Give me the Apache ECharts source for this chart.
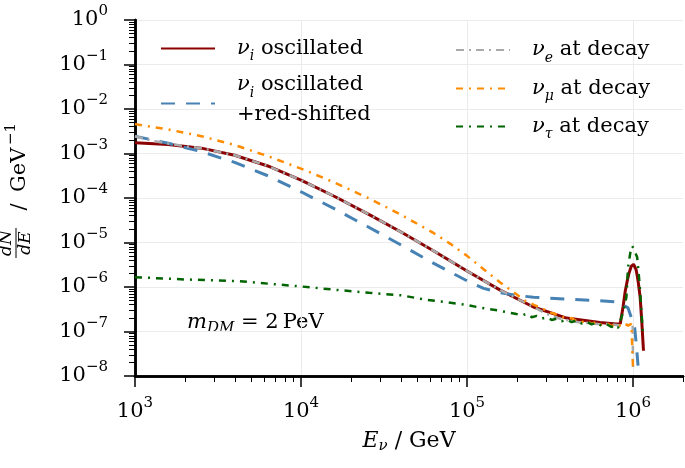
<!DOCTYPE html>
<html>
<head>
<meta charset="utf-8">
<script src="https://cdn.jsdelivr.net/npm/echarts@6/dist/echarts.min.js"></script>
<style>
html, body { margin: 0; padding: 0; background: #fff; }
#chart { width: 685px; height: 468px; }
</style>
</head>
<body>
<div id="chart"></div>
<script>
// tick values (log axes)
const xTicks = [1e3, 1e4, 1e5, 1e6];
const yTicks = [1e-8, 1e-7, 1e-6, 1e-5, 1e-4, 1e-3, 1e-2, 1e-1, 1];

// nu_i oscillated
const redE = [1000, 1585, 2512, 3981, 6310, 10000, 15850, 25120, 39810, 63100, 100000, 158500, 251200, 398100, 631000, 794300, 837500, 871000, 897500, 922000, 944100, 977200, 1007000, 1025000, 1042000, 1060000, 1079000, 1104000, 1130000, 1156000];
const redV = [1.74e-3, 1.585e-3, 1.32e-3, 9.12e-4, 5.25e-4, 2.51e-4, 1.096e-4, 4.47e-5, 1.74e-5, 6.46e-6, 2.29e-6, 8.51e-7, 3.55e-7, 2.0e-7, 1.585e-7, 1.48e-7, 1.5e-7, 3.6e-7, 8.0e-7, 1.35e-6, 2.0e-6, 2.95e-6, 3.24e-6, 3.0e-6, 2.5e-6, 1.8e-6, 1.17e-6, 5.9e-7, 1.58e-7, 3.7e-8];

// nu_i oscillated + red-shifted
const blueE = [1000, 1585, 2512, 3981, 6310, 10000, 15850, 25120, 39810, 63100, 100000, 125900, 158500, 199500, 251200, 398100, 631000, 812800, 933300, 1023000, 1047000, 1072000];
const blueV = [2.45e-3, 1.70e-3, 1.10e-3, 6.31e-4, 3.16e-4, 1.38e-4, 5.75e-5, 2.29e-5, 8.91e-6, 3.39e-6, 1.38e-6, 9.33e-7, 7.41e-7, 6.46e-7, 5.89e-7, 5.37e-7, 4.9e-7, 4.57e-7, 3.39e-7, 1.23e-7, 5.0e-8, 1.7e-8];

// nu_e at decay
const grayE = [1000, 1300, 1700, 2100, 2512, 3981, 6310, 10000, 15850, 25120, 39810, 63100, 100000, 158500, 251200, 300000, 360000, 420000, 480000, 550000, 630000, 720000, 820000, 920000, 995000, 1000000];
const grayV = [2.45e-3, 1.9e-3, 1.6e-3, 1.42e-3, 1.32e-3, 9.12e-4, 5.25e-4, 2.51e-4, 1.096e-4, 4.47e-5, 1.74e-5, 6.46e-6, 2.29e-6, 8.51e-7, 3.55e-7, 2.5e-7, 1.95e-7, 1.75e-7, 1.6e-7, 1.55e-7, 1.45e-7, 1.48e-7, 1.38e-7, 1.42e-7, 1.35e-7, 1.6e-8];

// nu_mu at decay
const orangeE = [1000, 1585, 2512, 3981, 6310, 10000, 15850, 25120, 39810, 63100, 79430, 100000, 125900, 158500, 199500, 213800, 223900, 239900, 251200, 269200, 281800, 302000, 316200, 331100, 354800, 380200, 398100, 426600, 457100, 489800, 524800, 562300, 602600, 645700, 691800, 741300, 794300, 851100, 891300, 933300, 977200, 995000, 1000000];
const orangeV = [4.57e-3, 3.47e-3, 2.45e-3, 1.55e-3, 8.71e-4, 4.57e-4, 2.24e-4, 1.02e-4, 4.27e-5, 1.62e-5, 9.33e-6, 5.01e-6, 2.51e-6, 1.26e-6, 6.76e-7, 5.6e-7, 4.9e-7, 4.57e-7, 3.98e-7, 3.63e-7, 3.24e-7, 3.02e-7, 2.63e-7, 2.57e-7, 2.29e-7, 2.09e-7, 1.91e-7, 2.0e-7, 1.7e-7, 1.62e-7, 1.78e-7, 1.48e-7, 1.66e-7, 1.41e-7, 1.55e-7, 1.32e-7, 1.48e-7, 1.32e-7, 1.51e-7, 1.35e-7, 1.48e-7, 1.4e-7, 1.55e-8];

// nu_tau at decay
const greenE = [1000, 2000, 4266, 10230, 16980, 25700, 40740, 54950, 74130, 97720, 123000, 154900, 195000, 213800, 229100, 245500, 263000, 281800, 302000, 323600, 346700, 371500, 398100, 426600, 457100, 489800, 524800, 562300, 602600, 645700, 691800, 741300, 776200, 812800, 831800, 871000, 912000, 933300, 966100, 988600, 1012000, 1059000, 1096000, 1122000, 1148000];
const greenV = [1.66e-6, 1.48e-6, 1.35e-6, 1.02e-6, 8.5e-7, 7.4e-7, 6.46e-7, 5.25e-7, 4.57e-7, 3.98e-7, 3.39e-7, 2.95e-7, 2.51e-7, 2.29e-7, 2.51e-7, 2.09e-7, 2.24e-7, 1.95e-7, 2.09e-7, 1.82e-7, 1.95e-7, 1.7e-7, 1.86e-7, 1.62e-7, 1.78e-7, 1.51e-7, 1.66e-7, 1.45e-7, 1.58e-7, 1.35e-7, 1.48e-7, 1.26e-7, 1.38e-7, 1.2e-7, 1.15e-7, 2.69e-7, 5.89e-7, 2.82e-6, 6.3e-6, 8.3e-6, 7.1e-6, 4.68e-6, 1.17e-6, 2.95e-7, 8.7e-8];

const SERIF = 'DejaVu Serif';
const X_MIN = 1e3, X_MAX = 2e6, Y_MIN = 1e-8, Y_MAX = 1;
const GRID_BOX = { left: 135, right: 2, top: 20, bottom: 92, outerBoundsMode: 'none' };

function zip(xs, ys) {
  return xs.map((x, i) => [x, ys[i]]);
}

// minor ticks at 2..9 of every decade
function minorTicks(lo, hi) {
  const out = [];
  for (let d = lo; d < hi; d *= 10) {
    for (let k = 2; k <= 9; k++) {
      const v = k * d;
      if (v <= hi * 1.0001) out.push(v);
    }
  }
  return out;
}

function powLabel(v) {
  const e = Math.round(Math.log10(v));
  return '{b|10}{s|' + String(e).replace('-', '\u2212') + '}';
}
function powLabelY(v) {
  return powLabel(v) + '{p| }';
}

const tickRich = {
  b: { fontFamily: SERIF, fontSize: 21, lineHeight: 32, color: '#000' },
  s: { fontFamily: SERIF, fontSize: 15, lineHeight: 15, verticalAlign: 'top', color: '#000' },
  p: { width: 13 }
};

const legendRich = {
  g: { fontFamily: SERIF, fontStyle: 'italic', fontSize: 21, lineHeight: 30, color: '#000' },
  s: { fontFamily: SERIF, fontStyle: 'italic', fontSize: 14, lineHeight: 18, verticalAlign: 'bottom', color: '#000' },
  t: { fontFamily: SERIF, fontSize: 21, lineHeight: 30, color: '#000' }
};

const legendText = {
  'νi oscillated': '{g|ν}{s|i}{t| oscillated}',
  'νi oscillated +red-shifted': '{g|ν}{s|i}{t| oscillated}\n{t|+red-shifted}',
  'νe at decay': '{g|ν}{s|e}{t| at decay}',
  'νμ at decay': '{g|ν}{s|μ}{t| at decay}',
  'ντ at decay': '{g|ν}{s|τ}{t| at decay}'
};

function oneLegend(name, left, top, padBottom) {
  return {
    data: [name],
    left: left,
    top: top,
    padding: 0,
    itemWidth: 54,
    itemHeight: 14,
    selectedMode: false,
    itemStyle: { opacity: 0 },
    formatter: n => legendText[n],
    textStyle: { padding: [0, 0, padBottom || 0, 17], rich: legendRich }
  };
}

// an overlay axis (second grid, same box) that only carries the short minor ticks
function minorAxis(min, max, values) {
  return {
    gridIndex: 1,
    type: 'log', logBase: 10, min: min, max: max,
    axisLine: { show: true, lineStyle: { color: '#000', width: 2.5 } },
    axisTick: { show: true, length: 6, customValues: values, lineStyle: { color: '#000', width: 1 } },
    axisLabel: { show: false },
    splitLine: { show: false }
  };
}

const lineBase = { type: 'line', symbol: 'none', showSymbol: false };

const chart = echarts.init(document.getElementById('chart'));
chart.setOption({
  animation: false,
  backgroundColor: '#fff',
  grid: [Object.assign({}, GRID_BOX), Object.assign({}, GRID_BOX)],
  legend: [
    oneLegend('νi oscillated', 160, 38),
    oneLegend('νi oscillated +red-shifted', 160, 74.5, 7),
    oneLegend('νe at decay', 455, 39.5),
    oneLegend('νμ at decay', 455, 78),
    oneLegend('ντ at decay', 455, 116)
  ],
  xAxis: [
    {
      gridIndex: 0,
      type: 'log', logBase: 10, min: X_MIN, max: X_MAX,
      axisLine: { lineStyle: { color: '#000', width: 2.5 } },
      axisTick: { length: 11, customValues: xTicks, lineStyle: { color: '#000', width: 1.5 } },
      axisLabel: { customValues: xTicks, formatter: powLabel, margin: 20, rich: tickRich },
      splitLine: { show: true, lineStyle: { color: '#ebebeb', width: 1 } },
      name: '{i|E}{s|ν}{t| / GeV}',
      nameLocation: 'middle',
      nameGap: 52,
      nameTextStyle: {
        rich: {
          i: { fontFamily: SERIF, fontStyle: 'italic', fontSize: 22, lineHeight: 26, color: '#000' },
          s: { fontFamily: SERIF, fontStyle: 'italic', fontSize: 15, lineHeight: 14, verticalAlign: 'bottom', color: '#000' },
          t: { fontFamily: SERIF, fontSize: 22, lineHeight: 26, color: '#000' }
        }
      }
    },
    minorAxis(X_MIN, X_MAX, minorTicks(X_MIN, X_MAX))
  ],
  yAxis: [
    {
      gridIndex: 0,
      type: 'log', logBase: 10, min: Y_MIN, max: Y_MAX,
      axisLine: { show: true, lineStyle: { color: '#000', width: 2.5 } },
      axisTick: { show: true, length: 11, customValues: yTicks, lineStyle: { color: '#000', width: 1.5 } },
      axisLabel: { customValues: yTicks, formatter: powLabelY, margin: 14, rich: tickRich },
      splitLine: { show: true, lineStyle: { color: '#ebebeb', width: 1 } }
    },
    minorAxis(Y_MIN, Y_MAX, minorTicks(Y_MIN, Y_MAX))
  ],
  series: [
    Object.assign({}, lineBase, {
      name: 'νi oscillated', data: zip(redE, redV),
      lineStyle: { color: '#8b0000', width: 3 }, itemStyle: { color: '#8b0000' }
    }),
    Object.assign({}, lineBase, {
      name: 'νi oscillated +red-shifted', data: zip(blueE, blueV),
      lineStyle: { color: '#4682b4', width: 3, type: [14, 11] }, itemStyle: { color: '#4682b4' }
    }),
    Object.assign({}, lineBase, {
      name: 'νe at decay', data: zip(grayE, grayV),
      lineStyle: { color: '#a9a9a9', width: 2.5, type: [8, 5, 2, 5] }, itemStyle: { color: '#a9a9a9' }
    }),
    Object.assign({}, lineBase, {
      name: 'νμ at decay', data: zip(orangeE, orangeV),
      lineStyle: { color: '#ff8c00', width: 2.5, type: [7, 6, 2, 6] }, itemStyle: { color: '#ff8c00' }
    }),
    Object.assign({}, lineBase, {
      name: 'ντ at decay', data: zip(greenE, greenV),
      lineStyle: { color: '#006400', width: 2.5, type: [7, 6, 2, 6] }, itemStyle: { color: '#006400' }
    })
  ],
  graphic: [
    {
      type: 'text', x: 187, y: 323,
      style: {
        text: '{i|m}{s|DM}{t| = 2\u2009PeV}',
        verticalAlign: 'middle',
        rich: {
          i: { fontFamily: SERIF, fontStyle: 'italic', fontSize: 21, lineHeight: 26, fill: '#000' },
          s: { fontFamily: SERIF, fontStyle: 'italic', fontSize: 15, lineHeight: 15, verticalAlign: 'bottom', fill: '#000' },
          t: { fontFamily: SERIF, fontSize: 21, lineHeight: 26, fill: '#000' }
        }
      }
    },
    {
      type: 'group', x: 20, y: 195, rotation: Math.PI / 2,
      children: [
        { type: 'text', x: -48, y: -13, style: { text: 'dN', fontFamily: SERIF, fontStyle: 'italic', fontSize: 17, align: 'center', verticalAlign: 'middle', fill: '#000' } },
        { type: 'line', shape: { x1: -63, y1: -4, x2: -33, y2: -4 }, style: { stroke: '#000', lineWidth: 1 } },
        { type: 'text', x: -48, y: 6, style: { text: 'dE', fontFamily: SERIF, fontStyle: 'italic', fontSize: 17, align: 'center', verticalAlign: 'middle', fill: '#000' } },
        { type: 'text', x: -12, y: 0, style: { text: '/', fontFamily: SERIF, fontSize: 21, align: 'center', verticalAlign: 'middle', fill: '#000' } },
        { type: 'text', x: 3, y: 0, style: { text: 'GeV', fontFamily: SERIF, fontSize: 21, align: 'left', verticalAlign: 'middle', fill: '#000' } },
        { type: 'text', x: 50, y: -9, style: { text: '\u22121', fontFamily: SERIF, fontSize: 15, align: 'left', verticalAlign: 'middle', fill: '#000' } }
      ]
    }
  ]
});
</script>
</body>
</html>
